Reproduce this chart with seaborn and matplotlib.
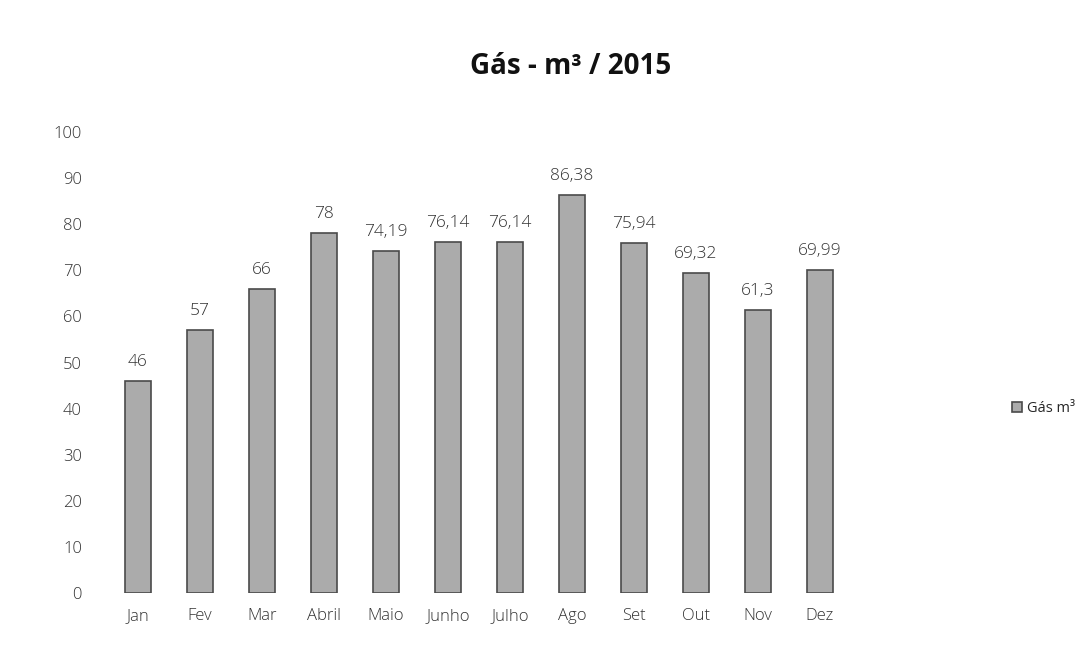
import pandas as pd
import matplotlib
matplotlib.use("Agg")
import matplotlib.pyplot as plt
import seaborn as sns

# Dados do gráfico
meses = ["Jan", "Fev", "Mar", "Abril", "Maio", "Junho", "Julho", "Ago", "Set", "Out", "Nov", "Dez"]
consumo = [46, 57, 66, 78, 74.19, 76.14, 76.14, 86.38, 75.94, 69.32, 61.3, 69.99]

df = pd.DataFrame({"mes": meses, "gas": consumo})

sns.set_style("white")
plt.rcParams["font.family"] = ["Open Sans", "DejaVu Sans"]

fig = plt.figure(figsize=(10.86, 6.52), dpi=100)
ax = fig.add_axes([0.0985, 0.0905, 0.685, 0.707])

sns.barplot(data=df, x="mes", y="gas", color="#ababab", width=0.42,
            edgecolor="#4a4a4a", linewidth=1.2, ax=ax, label="Gás m³")
if ax.get_legend() is not None:
    ax.get_legend().remove()

# rótulos com vírgula decimal
rotulos = [f"{v:g}".replace(".", ",") for v in consumo]
ax.bar_label(ax.containers[0], labels=rotulos, padding=8, fontsize=12.5,
             color="#333333", fontweight="light")

ax.set_ylim(0, 100)
ax.set_xlim(-0.5, 11.5)
ax.set_yticks(range(0, 101, 10))
ax.set_xlabel("")
ax.set_ylabel("")
ax.tick_params(axis="y", length=0, pad=18, labelsize=12, labelcolor="#333333")
ax.tick_params(axis="x", length=0, pad=11, labelsize=12, labelcolor="#333333")
for t in ax.get_xticklabels() + ax.get_yticklabels():
    t.set_fontweight("light")
sns.despine(ax=ax, left=True, bottom=True)

fig.suptitle("Gás - m³ / 2015", x=0.525, y=0.92, fontsize=20, fontweight="bold", color="#111111")

handles, labels = ax.get_legend_handles_labels()
fig.legend(handles, labels, loc="center left", bbox_to_anchor=(0.92, 0.373),
           frameon=False, fontsize=10.5, handlelength=0.7, handleheight=0.7,
           handletextpad=0.3)

fig.savefig("out.png", dpi=100)
